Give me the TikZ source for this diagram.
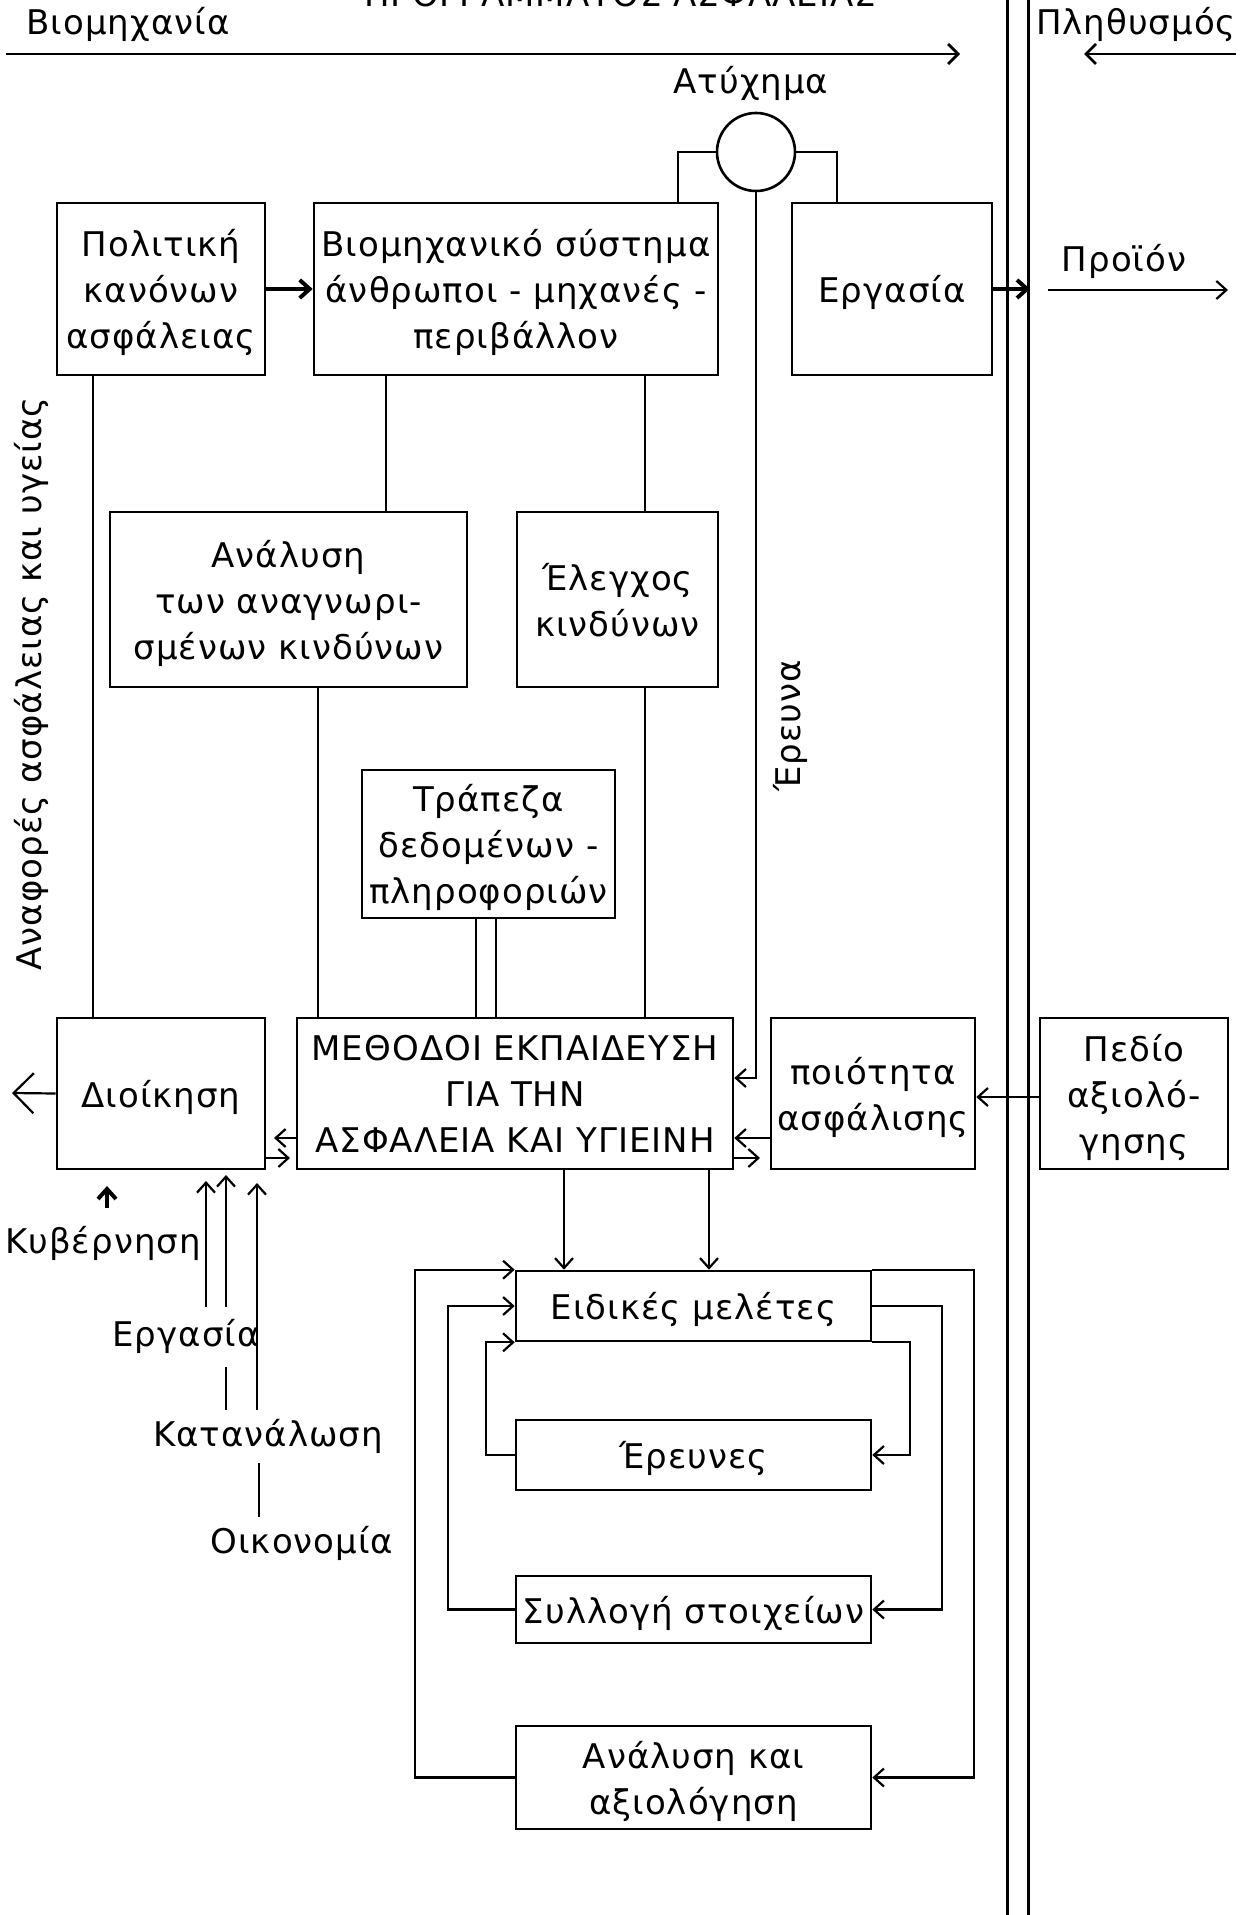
\documentclass[tikz,border=0pt]{standalone}
\usepackage{fontspec}
\setmainfont[LetterSpace=3]{DejaVu Sans}
\usetikzlibrary{arrows.meta}
\newcommand\dgfont{\fontsize{17pt}{23pt}\selectfont}
\begin{document}
\begin{tikzpicture}[x=0.5pt,y=-0.5pt,
  box/.style={draw,line width=1.3pt,inner sep=0pt,align=center,font=\dgfont,text depth=0pt},
  lbl/.style={font=\dgfont,inner sep=0pt,align=center},
  conn/.style={line width=1.1pt},
  arr/.style={conn,-{Straight Barb[length=5pt,width=9pt]}},
  tarr/.style={line width=1.4pt,-{Straight Barb[length=5pt,width=10pt]}},
  thk/.style={line width=2pt,-{Straight Barb[length=5pt,width=9pt]}},
  bigarr/.style={conn,-{Straight Barb[length=10pt,width=20pt]}}
]
\useasboundingbox (0,0) rectangle (1251,1915);
\clip (0,0) rectangle (1251,1915);

% title and top labels
\node[lbl,anchor=base] (title) at (620,7) {ΠΡΟΓΡΑΜΜΑΤΟΣ ΑΣΦΑΛΕΙΑΣ};
\node[lbl] (biomL) at (128,24) {Βιομηχανία};
\node[lbl] (plith) at (1136,24) {Πληθυσμός};
\coordinate (t1) at (6,54); \coordinate (t2) at (960,54);
\coordinate (t3) at (1236,54); \coordinate (t4) at (1084,54);
\draw[tarr] (t1) -- (t2);
\draw[tarr] (t3) -- (t4);

% double vertical border
\coordinate (d1a) at (1007,0); \coordinate (d1b) at (1007,1915);
\coordinate (d2a) at (1028,0); \coordinate (d2b) at (1028,1915);
\draw[line width=1.5pt] (d1a) -- (d1b);
\draw[line width=1.5pt] (d2a) -- (d2b);

% accident
\node[lbl] (atyx) at (751,83) {Ατύχημα};
\node[draw,circle,line width=1.3pt,minimum size=39pt,inner sep=0pt] (acc) at (756,152) {};

% boxes
\node[box,minimum width=104pt,minimum height=86pt] (pol) at (161,289) {Πολιτική\\κανόνων\\ασφάλειας};
\node[box,minimum width=202pt,minimum height=86pt] (biom) at (516,289) {Βιομηχανικό σύστημα\\άνθρωποι - μηχανές -\\περιβάλλον};
\node[box,minimum width=100pt,minimum height=86pt] (erg) at (892,289) {Εργασία};
\node[box,minimum width=178.5pt,minimum height=87.5pt] (anal) at (288.5,599.5) {Ανάλυση\\των αναγνωρι-\\σμένων κινδύνων};
\node[box,minimum width=100.5pt,minimum height=87.5pt] (ctrl) at (617.5,599.5) {Έλεγχος\\κινδύνων};
\node[box,minimum width=126.5pt,minimum height=74pt] (bank) at (488.5,844) {Τράπεζα\\δεδομένων -\\πληροφοριών};
\node[box,minimum width=218pt,minimum height=75.5pt] (meth) at (515,1093.5) {ΜΕΘΟΔΟΙ ΕΚΠΑΙΔΕΥΣΗ\\ΓΙΑ ΤΗΝ\\ΑΣΦΑΛΕΙΑ ΚΑΙ ΥΓΙΕΙΝΗ};
\node[box,minimum width=104pt,minimum height=75.5pt] (admin) at (161,1093.5) {Διοίκηση};
\node[box,minimum width=102pt,minimum height=75.5pt] (qual) at (873,1093.5) {ποιότητα\\ασφάλισης};
\node[box,minimum width=94pt,minimum height=75.5pt] (field) at (1134,1093.5) {Πεδίο\\αξιολό-\\γησης};
\node[box,minimum width=177.5pt,minimum height=35pt] (spec) at (693.5,1306) {Ειδικές  μελέτες};
\node[box,minimum width=177.5pt,minimum height=35pt] (res) at (693.5,1455) {Έρευνες};
\node[box,minimum width=177.5pt,minimum height=33.5pt] (coll) at (693.5,1609.5) {Συλλογή  στοιχείων};
\node[box,minimum width=177.5pt,minimum height=51.5pt] (evalb) at (693.5,1777.5) {Ανάλυση και\\αξιολόγηση};

% labels
\node[lbl] (prod) at (1124,261) {Προϊόν};
\node[lbl,rotate=90] (reports) at (31,684) {Αναφορές ασφάλειας και υγείας};
\node[lbl,rotate=90] (erevna) at (790,726) {Έρευνα};
\node[lbl] (kyv) at (103,1243) {Κυβέρνηση};
\node[lbl] (ergL) at (186,1336) {Εργασία};
\node[lbl] (katan) at (268,1436) {Κατανάλωση};
\node[lbl] (oikon) at (302,1543) {Οικονομία};

% helper x/y coordinates
\coordinate (x93) at (93,0);
\coordinate (x318) at (318,0);
\coordinate (x386) at (386,0);
\coordinate (x476) at (476,0);
\coordinate (x496) at (496,0);
\coordinate (x645) at (645,0);
\coordinate (x564) at (564,0);
\coordinate (x709) at (709,0);
\coordinate (x678) at (678,0);
\coordinate (x837) at (837,0);
\coordinate (y1078) at (0,1078);
\coordinate (y1097) at (0,1097);
\coordinate (y1138) at (0,1138);
\coordinate (y1158) at (0,1158);

% top connections
\draw[thk] (pol.east) -- (biom.west);
\draw[conn] (biom.north -| x678) |- (acc.west);
\draw[conn] (acc.east) -| (erg.north -| x837);
\coordinate (ergEnd) at (1030,289);
\draw[thk] (erg.east) -- (ergEnd);
\coordinate (prA) at (1048,290); \coordinate (prB) at (1228,290);
\draw[arr] (prA) -- (prB);
\draw[arr] (acc.south) |- (meth.east |- y1078);

% vertical connections
\draw[conn] (pol.south -| x93) -- (admin.north -| x93);
\draw[conn] (biom.south -| x386) -- (anal.north -| x386);
\draw[conn] (biom.south -| x645) -- (ctrl.north -| x645);
\draw[conn] (anal.south -| x318) -- (meth.north -| x318);
\draw[conn] (ctrl.south -| x645) -- (meth.north -| x645);
\draw[conn] (bank.south -| x476) -- (meth.north -| x476);
\draw[conn] (bank.south -| x496) -- (meth.north -| x496);

% arrows around methods row
\coordinate (mwEnd) at (274,1138);
\draw[arr] (meth.west |- y1138) -- (mwEnd);
\coordinate (aeEnd) at (290,1158);
\draw[arr] (admin.east |- y1158) -- (aeEnd);
\draw[arr] (qual.west |- y1138) -- (meth.east |- y1138);
\coordinate (meEnd) at (760,1158);
\draw[arr] (meth.east |- y1158) -- (meEnd);
\draw[arr] (field.west |- y1097) -- (qual.east |- y1097);
\coordinate (outL) at (12,1093);
\draw[bigarr] (admin.west) -- (outL);

% inputs to administration
\coordinate (kA) at (107,1208); \coordinate (kB) at (107,1186);
\draw[thk] (kA) -- (kB);
\coordinate (lA1) at (206,1307); \coordinate (lA2) at (206,1181);
\draw[arr] (lA1) -- (lA2);
\coordinate (lB1) at (226,1307); \coordinate (lB2) at (226,1175);
\draw[arr] (lB1) -- (lB2);
\coordinate (lB3) at (226,1367); \coordinate (lB4) at (226,1410);
\draw[conn] (lB3) -- (lB4);
\coordinate (lC1) at (257,1410); \coordinate (lC2) at (257,1183);
\draw[arr] (lC1) -- (lC2);
\coordinate (lC3) at (259,1463); \coordinate (lC4) at (259,1517);
\draw[conn] (lC3) -- (lC4);

% down arrows to special studies
\draw[arr] (meth.south -| x564) -- (spec.north -| x564);
\draw[arr] (meth.south -| x709) -- (spec.north -| x709);

% feedback loops
\coordinate (oL) at (415,0); \coordinate (oR) at (974,0);
\coordinate (mL) at (448,0); \coordinate (mR) at (942,0);
\coordinate (iL) at (486,0); \coordinate (iR) at (910,0);
\draw[arr] (evalb.west) -| (oL |- spec.north west) -- (spec.north west);
\draw[arr] (spec.north east) -| (oR |- evalb.east) -- (evalb.east);
\draw[arr] (coll.west) -| (mL |- spec.west) -- (spec.west);
\draw[arr] (spec.east) -| (mR |- coll.east) -- (coll.east);
\draw[arr] (res.west) -| (iL |- spec.south west) -- (spec.south west);
\draw[arr] (spec.south east) -| (iR |- res.east) -- (res.east);
\end{tikzpicture}
\end{document}
